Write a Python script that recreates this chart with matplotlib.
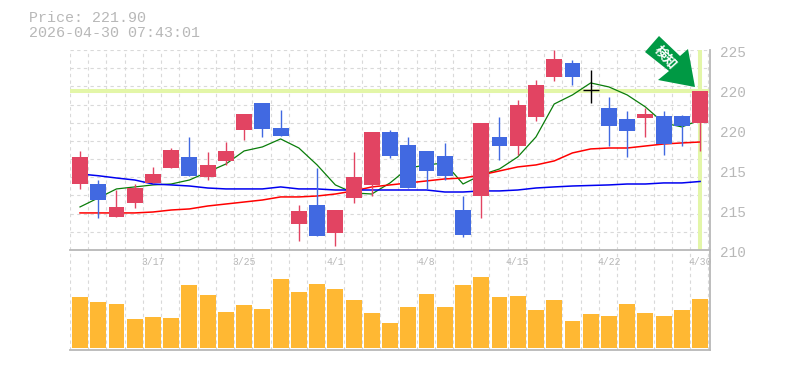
"""Candlestick chart with moving averages and a volume pane."""
import matplotlib

matplotlib.use("Agg")
import matplotlib.pyplot as plt
from matplotlib.patches import Polygon

W, H = 785, 370
LEFT, RIGHT = 70, 710
GREY = "#b8b8b8"
GRID = "#d9d9d9"
UP = "#e24462"
DOWN = "#4169e1"
MONO = "Liberation Mono"

# price data
opens = [214.95, 214.95, 212.48, 213.53, 215.03, 216.15, 216.98, 215.48, 216.68, 219.0, 221.03, 219.15,
         211.95, 213.38, 211.28, 213.9, 214.88, 218.85, 217.88, 217.43, 217.05, 213.0, 214.05, 218.48,
         217.8, 219.98, 222.98, 224.03, 222.0, 220.65, 219.83, 219.9, 220.05, 220.05, 219.53]
closes = [216.98, 213.75, 213.23, 214.65, 215.7, 217.5, 215.55, 216.38, 217.43, 220.2, 219.08, 218.55,
          212.93, 211.05, 213.0, 215.48, 218.85, 217.05, 214.65, 215.93, 215.55, 211.13, 219.53, 217.8,
          220.88, 222.38, 224.33, 222.98, 222.0, 219.3, 218.93, 220.2, 217.95, 219.3, 221.9]
highs = [217.43, 215.25, 214.5, 214.95, 216.23, 217.65, 218.48, 217.35, 218.1, 220.2, 221.03, 220.5,
         213.38, 216.15, 213.0, 217.35, 218.85, 219.0, 218.48, 217.43, 218.03, 214.05, 219.53, 219.98,
         221.25, 222.75, 225.0, 224.25, 223.5, 221.48, 220.43, 220.65, 220.43, 220.13, 221.93]
lows = [214.58, 212.4, 212.48, 213.15, 215.03, 216.15, 215.55, 215.25, 216.38, 218.25, 218.48, 218.55,
        210.68, 211.05, 210.3, 213.53, 214.05, 216.9, 214.65, 214.58, 215.25, 210.98, 212.4, 216.75,
        217.13, 219.68, 222.68, 222.38, 221.03, 217.8, 216.98, 218.48, 217.13, 217.8, 217.43]

ma_short = [213.23, 213.9, 214.58, 214.73, 214.88, 214.95, 215.25, 215.85, 216.45, 217.43, 217.73, 218.33,
            217.65, 216.38, 214.88, 214.28, 214.2, 215.03, 216.15, 216.38, 216.53, 214.95, 215.63, 216.08,
            216.98, 218.48, 220.95, 221.63, 222.53, 222.23, 221.63, 220.73, 219.53, 219.23, 219.75]
ma_mid = [212.78, 212.78, 212.78, 212.78, 212.85, 213.0, 213.08, 213.3, 213.45, 213.6, 213.75, 213.98,
          213.98, 214.05, 214.2, 214.43, 214.73, 214.88, 215.03, 215.18, 215.33, 215.4, 215.63, 215.93,
          216.23, 216.38, 216.68, 217.28, 217.58, 217.65, 217.65, 217.8, 217.95, 218.03, 218.1]
ma_long = [215.7, 215.57, 215.4, 215.25, 214.95, 214.88, 214.8, 214.65, 214.58, 214.58, 214.58, 214.73,
           214.58, 214.58, 214.5, 214.5, 214.5, 214.5, 214.5, 214.5, 214.35, 214.35, 214.43, 214.43,
           214.5, 214.65, 214.73, 214.8, 214.84, 214.88, 214.95, 214.95, 215.03, 215.03, 215.14]
volumes = [51, 46, 44, 29, 31, 30, 63, 53, 36, 43, 39, 69, 56, 64, 59, 48, 35, 25,
           41, 54, 41, 63, 71, 51, 52, 38, 48, 27, 34, 32, 44, 35, 32, 38, 49]

last_price = 221.90
header = ["Price: 221.90", "2026-04-30 07:43:01"]
tick_idx = [4, 9, 14, 19, 24, 29, 34]
tick_labels = ["3/17", "3/25", "4/1", "4/8", "4/15", "4/22", "4/30"]
price_ticks = [225, 222, 219, 216, 213, 210]
price_labels = ["225", "220", "220", "215", "215", "210"]

n = len(opens)
step = (RIGHT - LEFT) / (n + 0.09)
x0 = (80 - LEFT) / step
xlim = (-x0, (RIGHT - LEFT) / step - x0)
xs = list(range(n))
grid_x = [-x0 + k for k in range(n + 1)]

fig = plt.figure(figsize=(W / 100, H / 100), dpi=100)
ax = fig.add_axes([LEFT / W, 1 - 250 / H, (RIGHT - LEFT) / W, 200 / H])
axv = fig.add_axes([LEFT / W, 1 - 350 / H, (RIGHT - LEFT) / W, 100 / H])

for a in (ax, axv):
    a.set_xlim(xlim)
    a.set_xticks(grid_x)
    a.set_xticklabels([])
    a.tick_params(length=0)
    a.set_yticklabels([])
    a.grid(True, color=GRID, lw=0.8, ls=(0, (3, 3)))
    a.set_axisbelow(True)
    for side in ("left", "top", "bottom", "right"):
        a.spines[side].set_visible(False)

ax.set_ylim(210, 225)
ax.set_yticks([210 + 15 * k / 11 for k in range(12)])
axv.set_ylim(-2, 98)
axv.set_yticks([])

# highlight of the last price and last session
ax.axhline(last_price, color="#e3f6a8", lw=2.9, zorder=1)
ax.axvline(xs[-1], color="#e3f6a8", lw=2.9, zorder=1)

ax.plot(xs, ma_short, color="#0a7d0a", lw=0.9, zorder=2)
ax.plot(xs, ma_mid, color="#ff0000", lw=1.1, zorder=2)
ax.plot(xs, ma_long, color="#0000f0", lw=1.1, zorder=2)

for i in xs:
    o, c = opens[i], closes[i]
    col = UP if c > o else DOWN if c < o else "black"
    ax.vlines(i, lows[i], highs[i], color=col, lw=1, zorder=3)
    if c == o:
        ax.hlines(c, i - 0.44, i + 0.44, color=col, lw=1, zorder=3)
    else:
        ax.bar(i, abs(c - o), bottom=min(o, c), width=0.87, color=col, zorder=3)

axv.bar(xs, volumes, width=0.87, color="#ffb833", zorder=2)

for i, lab in zip(tick_idx, tick_labels):
    axv.annotate(lab, (i, 1), xycoords=("data", "axes fraction"), xytext=(0, -12),
                 textcoords="offset pixels", ha="center", va="center",
                 family=MONO, fontsize=7, color=GREY, clip_on=False)
for p, lab in zip(price_ticks, price_labels):
    ax.annotate(lab, (1, p), xycoords=("axes fraction", "data"), xytext=(10, -3),
                textcoords="offset pixels", ha="left", va="center",
                family=MONO, fontsize=10.4, color=GREY)

# frame lines
line = dict(color=GREY, lw=1.3, transform=fig.transFigure, clip_on=False)
fig.add_artist(plt.Line2D([LEFT / W, RIGHT / W], [1 - 250 / H] * 2, **line))
fig.add_artist(plt.Line2D([LEFT / W, RIGHT / W], [1 - 349.5 / H] * 2, **line))
fig.add_artist(plt.Line2D([(RIGHT - 0.5) / W] * 2, [1 - 350 / H, 1 - 50 / H], **line))

fig.text(29 / W, 1 - 18 / H, header[0], family=MONO, fontsize=10.8, color=GREY, va="center")
fig.text(29 / W, 1 - 33 / H, header[1], family=MONO, fontsize=10.8, color=GREY, va="center")

# signal arrow
arrow = [(659, 36), (645, 52), (669, 71), (658, 80), (695, 87), (688, 49), (680, 56)]
fig.add_artist(Polygon([(px / W, 1 - py / H) for px, py in arrow], closed=True,
                       transform=fig.transFigure, facecolor="#009944", edgecolor="none",
                       zorder=5))
fig.text(666 / W, 1 - 57 / H, "検知", family=["Noto Sans CJK JP", "DejaVu Sans"],
         fontsize=9.5, fontweight="bold", color="white", rotation=-48,
         ha="center", va="center", rotation_mode="anchor", zorder=6)

fig.savefig("out.png", dpi=100, facecolor="white")
